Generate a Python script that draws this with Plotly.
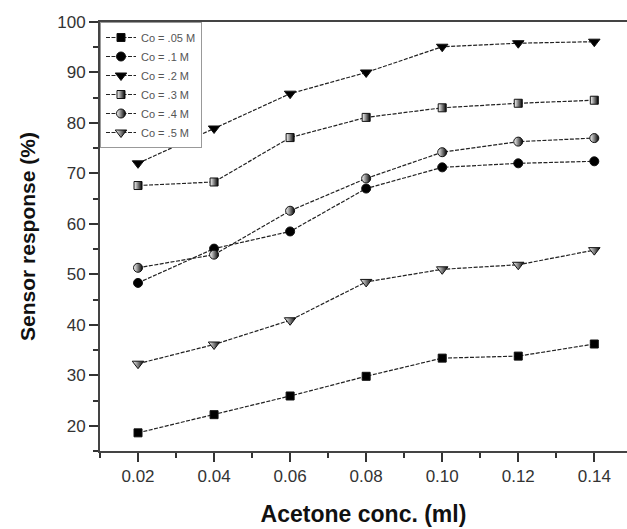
import plotly.graph_objects as go

x_conc = [0.02, 0.04, 0.06, 0.08, 0.10, 0.12, 0.14]
names = ["Co = .05 M", "Co = .1 M", "Co = .2 M", "Co = .3 M", "Co = .4 M", "Co = .5 M"]
co_005 = [18.6, 22.2, 25.9, 29.8, 33.4, 33.8, 36.2]
co_01 = [48.3, 55.1, 58.5, 67.0, 71.2, 72.0, 72.4]
co_02 = [72.0, 78.9, 85.8, 90.0, 95.1, 95.8, 96.1]
co_03 = [67.6, 68.3, 77.1, 81.1, 83.0, 83.9, 84.5]
co_04 = [51.3, 53.9, 62.6, 69.0, 74.2, 76.3, 77.0]
co_05 = [32.3, 36.1, 40.9, 48.5, 51.0, 51.9, 54.8]
y_ticks = [20, 30, 40, 50, 60, 70, 80, 90, 100]
x_ticks = [0.02, 0.04, 0.06, 0.08, 0.10, 0.12, 0.14]

series = [co_005, co_01, co_02, co_03, co_04, co_05]
symbols = ["square", "circle", "triangle-down", "square", "circle", "triangle-down"]
sizes = [8, 9, 10, 8, 9, 10]
fills = ["#000000", "#000000", "#000000", "#ffffff", "#ffffff", "#ffffff"]
gradients = [None, None, None, "horizontal", "horizontal", "horizontal"]

FONT = "Arial, 'Liberation Sans', sans-serif"
fig = go.Figure()
for name, ys, sym, sz, fc, gr in zip(names, series, symbols, sizes, fills, gradients):
    marker = dict(symbol=sym, size=sz, color=fc, line=dict(color="#111111", width=1))
    if gr:
        marker["gradient"] = dict(type=gr, color="#000000")
    fig.add_trace(go.Scatter(
        x=x_conc, y=ys, name=name, mode="lines+markers",
        line=dict(color="#222222", width=1.2, dash="4px,1.5px"),
        marker=marker,
    ))

fig.update_layout(
    width=627, height=529,
    margin=dict(l=100, r=0, t=22, b=78),
    paper_bgcolor="white", plot_bgcolor="white",
    font=dict(family=FONT, color="#222222"),
    showlegend=True,
    legend=dict(x=0, y=1, xanchor="left", yanchor="top",
                bordercolor="#999999", borderwidth=1, bgcolor="white",
                font=dict(size=11, color="#555555"), itemwidth=30,
                tracegroupgap=0),
)
fig.update_xaxes(
    range=[0.01, 0.1486], tickvals=x_ticks, tickformat=".2f",
    showline=True, linecolor="#444444", linewidth=2, mirror=True,
    ticks="outside", ticklen=9, tickwidth=1.5, tickcolor="#333333",
    minor=dict(dtick=0.01, tick0=0.01, ticks="outside", ticklen=5, tickwidth=1.5, tickcolor="#333333"),
    showgrid=False, zeroline=False,
    tickfont=dict(size=17, color="#333333"),
    title=dict(text="<b>Acetone conc. (ml)</b>", font=dict(size=23, color="#111111"), standoff=20),
)
fig.update_yaxes(
    range=[15, 100], tickvals=y_ticks,
    showline=True, linecolor="#444444", linewidth=2,
    ticks="outside", ticklen=9, tickwidth=1.5, tickcolor="#333333",
    minor=dict(dtick=5, tick0=15, ticks="outside", ticklen=5, tickwidth=1.5, tickcolor="#333333"),
    showgrid=False, zeroline=False,
    tickfont=dict(size=17, color="#333333"),
    title=dict(text="<b>Sensor response (%)</b>", font=dict(size=21, color="#111111"), standoff=16),
)
fig.write_html("out.html")
